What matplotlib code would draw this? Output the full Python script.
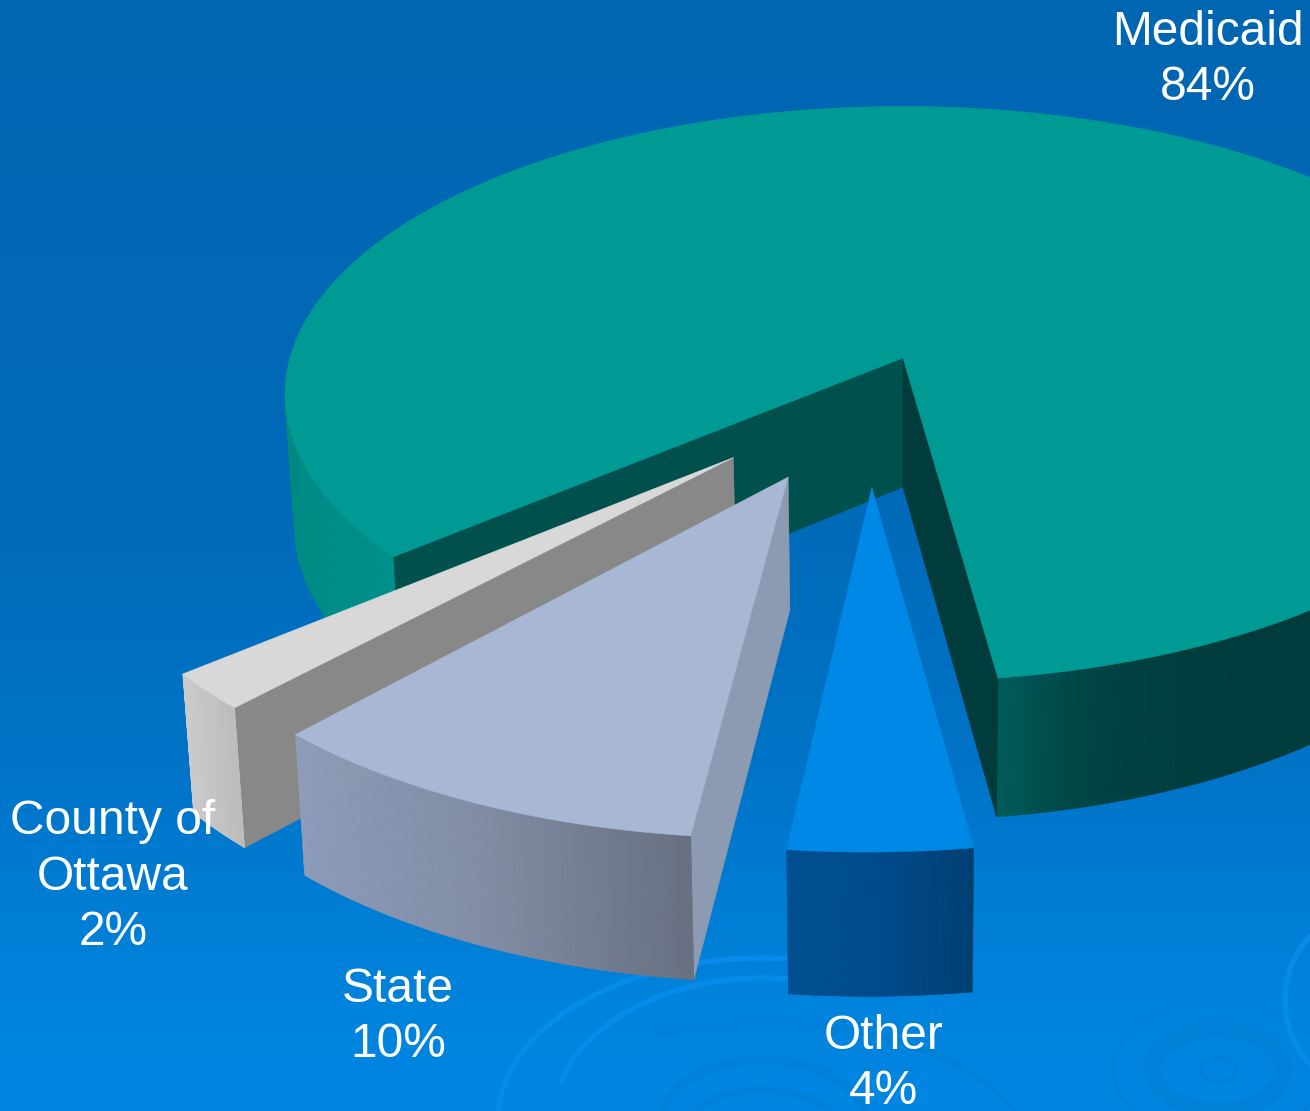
import numpy as np
import matplotlib
matplotlib.use('Agg')
import matplotlib.pyplot as plt
from matplotlib.colors import LinearSegmentedColormap, to_rgb
from matplotlib.patches import Arc, Ellipse, Polygon

labels = ['Medicaid', 'County of\nOttawa', 'State', 'Other']
shares = [84, 2, 10, 4]

# where each slice's label sits, and how far each slice is pulled out of the pie
label_pos = [(1208, 60), (113, 877), (398, 1017), (884, 1064)]
explode = [(0, 0), (-0.265, 0.337), (-0.178, 0.40), (-0.048, 0.433)]
twist = [0, -0.2, 0.4, 0.4]

top_colors = ['#009a95', '#d8d8d8', '#a8b8d4', '#0088e6']
cut_colors = ['#00504e', '#888888', '#8c9ab2', '#0060a8']
wall_colors = [('#00918a', '#008880'),
               ('#cbcbcb', '#bcbcbc'),
               ('#8f9db9', '#848fa6', '#6a7080'),
               ('#004f8e', '#00498a', '#003f70')]
right_wall = ('#005a58', '#004848', '#004040', '#003e3e') + ('#003c3c',) * 12

W, H = 1310, 1111
CX, CY = 903, 358
RX, RY = 613, 283
PERSP = 0.125
START = 7.8


def project(u, v):
    s = 1 / (1 - PERSP * v)
    return CX + RX * u * s, CY + RY * v * s


def drop(u, v):
    # same plan point on the underside of the pie
    s = 1 / (1 - PERSP * v)
    x, y = project(u, v)
    return CX + (x - CX) * 0.985, y + 129 + 70 * (s - 1)


def arc_points(a0, a1, off, n=160):
    phi = np.radians(np.linspace(a0, a1, n))
    return off[0] + np.sin(phi), off[1] + np.cos(phi)


def fill(ax, pts, color, z):
    ax.add_patch(Polygon(pts, closed=True, fc=color, ec=color, lw=0.4, zorder=z))


def side_wall(ax, a0, a1, off, colors, z):
    cmap = LinearSegmentedColormap.from_list('wall', [to_rgb(c) for c in colors])
    u, v = arc_points(a0, a1, off)
    xt, yt = project(u, v)
    xb, yb = drop(u, v)
    for i in range(len(u) - 1):
        pts = [(xt[i], yt[i]), (xt[i + 1], yt[i + 1]), (xb[i + 1], yb[i + 1]), (xb[i], yb[i])]
        fill(ax, pts, cmap(i / (len(u) - 2)), z)


def cut_face(ax, off, u, v, color, z):
    pts = [project(*off), project(u, v), drop(u, v), drop(*off)]
    fill(ax, pts, color, z)


fig = plt.figure(figsize=(W / 100, H / 100), dpi=100)
ax = fig.add_axes([0, 0, 1, 1])
ax.set_xlim(0, W)
ax.set_ylim(H, 0)
ax.axis('off')

# background fades from deep blue down to a brighter blue
stops = [(0, '#0066b2'), (500 / H, '#006ab8'), (750 / H, '#0073c6'), (1000 / H, '#0083dc'), (1, '#0086e2')]
bg = LinearSegmentedColormap.from_list('bg', stops)
ax.imshow(np.linspace(0, 1, 512).reshape(-1, 1), cmap=bg, extent=(0, W, H, 0), aspect='auto', zorder=0)

# water ripples along the bottom
dark, light = '#0180d7', '#078ae8'
ax.add_patch(Arc((763, 1120), 530, 324, theta1=180, theta2=290, color=light, lw=4, zorder=1))
ax.add_patch(Arc((763, 1120), 420, 284, theta1=190, theta2=300, color=light, lw=4, zorder=1))
ax.add_patch(Arc((763, 1160), 536, 274, theta1=230, theta2=358, color=dark, lw=4, zorder=1))
ax.add_patch(Ellipse((763, 1125), 206, 130, fill=False, ec=dark, lw=6, zorder=1))
ax.add_patch(Ellipse((763, 1125), 144, 70, fill=False, ec=dark, lw=5, zorder=1))
for w, h, lw in [(210, 140, 3), (130, 82, 12), (36, 24, 3)]:
    ax.add_patch(Ellipse((1218, 1070), w, h, fill=False, ec=dark, lw=lw, zorder=1))
ax.add_patch(Ellipse((1370, 1000), 170, 180, fill=False, ec=light, lw=4, zorder=1))

# slices in clockwise order, starting at the right edge of the big one
edges = START + np.cumsum([0] + shares) * 3.6
for i in range(len(shares)):
    a0, a1 = edges[i] + twist[i], edges[i + 1] + twist[i]
    off = explode[i]
    u, v = arc_points(a0, a1, off, 400 if i == 0 else 160)
    z = 2 + i * 3
    if i == 0:
        side_wall(ax, a1, 270, off, wall_colors[i], z)
        side_wall(ax, a0, 90, off, right_wall, z)
        cut_face(ax, off, u[-1], v[-1], cut_colors[i], z)
        cut_face(ax, off, u[0], v[0], '#003c3c', z + 0.5)
    elif labels[i] == 'Other':
        side_wall(ax, a0, a1, off, wall_colors[i], z)
    else:
        cut_face(ax, off, u[-1], v[-1], cut_colors[i], z)
        side_wall(ax, a0, a1, off, wall_colors[i], z)
    xt, yt = project(u, v)
    fill(ax, [project(*off)] + list(zip(xt, yt)), top_colors[i], z + 1)

for name, share, pos in zip(labels, shares, label_pos):
    ax.text(pos[0], pos[1], f'{name}\n{share}%', color='white', ha='center', va='center',
            fontsize=34.5, family='Liberation Sans', linespacing=1.29, zorder=20)

fig.savefig('out.png', dpi=100)
